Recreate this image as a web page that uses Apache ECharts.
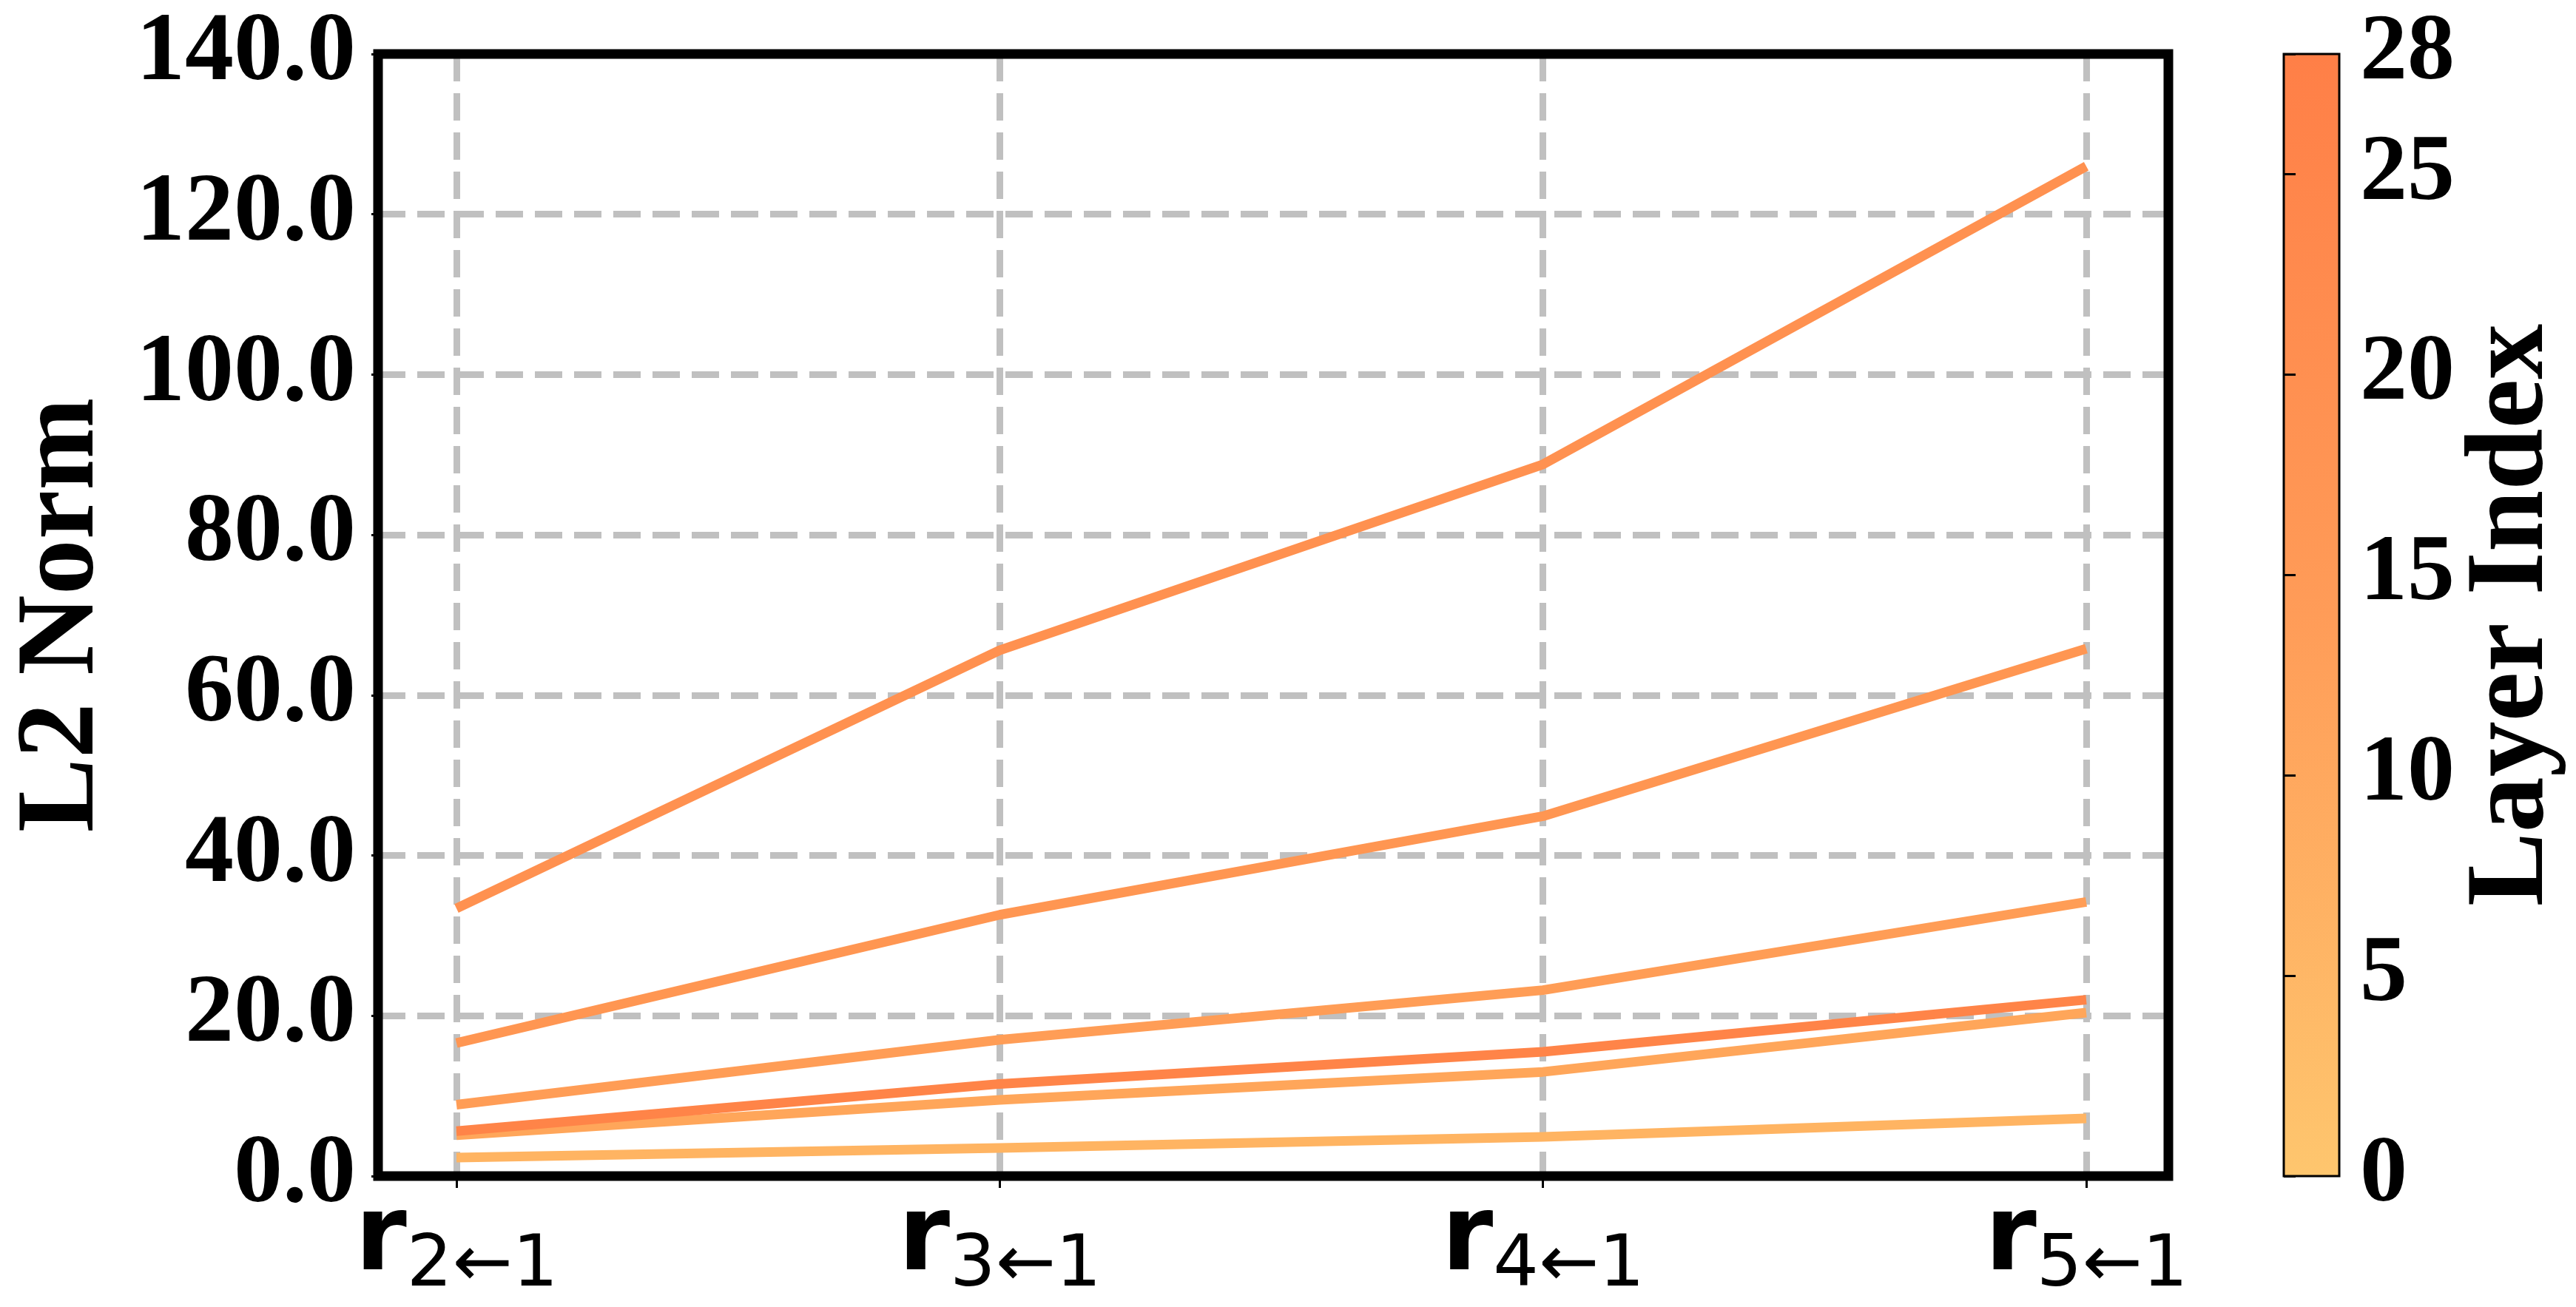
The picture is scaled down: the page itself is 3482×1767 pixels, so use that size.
<!DOCTYPE html>
<html>
<head>
<meta charset="utf-8">
<script src="https://cdn.jsdelivr.net/npm/echarts@6/dist/echarts.min.js"></script>
<style>
html,body{margin:0;padding:0;background:#fff;}
#main{width:3482px;height:1767px;}
</style>
</head>
<body>
<div id="main"></div>
<script>
// ---- data ----
const subscripts = ['2\u21901', '3\u21901', '4\u21901', '5\u21901'];
const yTicksMin = 0, yTicksMax = 140, yTickStep = 20;
const layerMin = 0, layerMax = 28, layerStep = 5;
// series ordered from lowest to highest layer (drawn in this order)
const seriesNames = ['Layer 7', 'Layer 12', 'Layer 16', 'Layer 19', 'Layer 21', 'Layer 26'];
const seriesColors = ['#FFB462', '#FFA65A', '#FF9D56', '#FF9652', '#FF9150', '#FF8448'];
const valsL7  = [2.3, 3.5, 4.9, 7.2];
const valsL12 = [5.1, 9.5, 13.0, 20.4];
const valsL16 = [8.9, 17.0, 23.2, 34.2];
const valsL19 = [16.6, 32.6, 44.9, 65.8];
const valsL21 = [33.4, 65.6, 88.8, 126.0];
const valsL26 = [5.6, 11.5, 15.5, 22.0];
const allVals = [valsL7, valsL12, valsL16, valsL19, valsL21, valsL26];
const cbarStops = [
  {offset: 0, color: '#FF7F47'},
  {offset: 0.5, color: '#FF9C58'},
  {offset: 1, color: '#FEC66E'}
];

const serif = 'Liberation Serif, Times New Roman, serif';
const chart = echarts.init(document.getElementById('main'), null, {renderer: 'canvas'});

const PL = 511, PT = 73, PW = 2420, PH = 1517;
const X0 = 617, XW = 2203;

const option = {
  backgroundColor: '#fff',
  animation: false,
  grid: [
    {left: PL, top: PT, width: PW, height: PH, show: true, borderColor: '#000', borderWidth: 13, backgroundColor: 'transparent', z: 3},
    {left: X0, top: PT, width: XW, height: PH},
    {left: 3087, top: PT, width: 75, height: PH, show: true, borderColor: '#000', borderWidth: 3,
     backgroundColor: {type: 'linear', x: 0, y: 0, x2: 0, y2: 1, colorStops: cbarStops}}
  ],
  xAxis: [
    {gridIndex: 0, type: 'value', min: 0, max: 1, show: false},
    {gridIndex: 1, type: 'category', data: subscripts, boundaryGap: false,
     axisLine: {show: false},
     axisTick: {show: true, length: 16, alignWithLabel: true, lineStyle: {color: '#000', width: 3}},
     splitLine: {show: true, lineStyle: {color: '#C0C0C0', width: 9, type: [37, 16]}},
     axisLabel: {interval: 0, margin: 18,
       formatter: v => '{r|r}{s|' + v + '}',
       rich: {
         r: {fontFamily: 'DejaVu Sans', fontWeight: 'bold', fontSize: 142, lineHeight: 142, verticalAlign: 'top', color: '#000'},
         s: {fontFamily: 'DejaVu Sans', fontWeight: 'normal', fontSize: 97, lineHeight: 97, padding: [56, 0, 0, 0], verticalAlign: 'top', color: '#000'}
       }}},
    {gridIndex: 2, type: 'value', min: 0, max: 1, show: false}
  ],
  yAxis: [
    {gridIndex: 0, type: 'value', min: yTicksMin, max: yTicksMax, interval: yTickStep,
     name: 'L2 Norm', nameLocation: 'middle', nameGap: 350, nameRotate: 90,
     nameTextStyle: {fontFamily: serif, fontWeight: 'bold', fontSize: 150, color: '#000'},
     axisLine: {show: false},
     axisTick: {show: true, length: 9, lineStyle: {color: '#000', width: 3}},
     axisLabel: {margin: 30, fontFamily: serif, fontWeight: 'bold', fontSize: 132, color: '#000',
       formatter: v => v.toFixed(1)},
     splitLine: {show: true, lineStyle: {color: '#C0C0C0', width: 9, type: [37, 16]}}},
    {gridIndex: 1, type: 'value', min: yTicksMin, max: yTicksMax, show: false, splitLine: {show: false}},
    {gridIndex: 2, type: 'value', position: 'right', min: layerMin, max: layerMax, interval: layerStep,
     name: 'Layer Index', nameLocation: 'middle', nameGap: 150, nameRotate: 90,
     nameTextStyle: {fontFamily: serif, fontWeight: 'bold', fontSize: 150, color: '#000'},
     axisLine: {show: false},
     axisTick: {show: true, length: 16, lineStyle: {color: '#000', width: 3}},
     axisLabel: {margin: 28, fontFamily: serif, fontWeight: 'bold', fontSize: 128, color: '#000', showMaxLabel: true},
     splitLine: {show: false}}
  ],
  series: allVals.map((vals, i) => ({
    name: seriesNames[i], type: 'line', xAxisIndex: 1, yAxisIndex: 1,
    data: vals, symbol: 'none', z: 2 + i * 0.01,
    lineStyle: {color: seriesColors[i], width: 13, cap: 'butt', join: 'round'}
  }))
};
chart.setOption(option);
</script>
</body>
</html>
